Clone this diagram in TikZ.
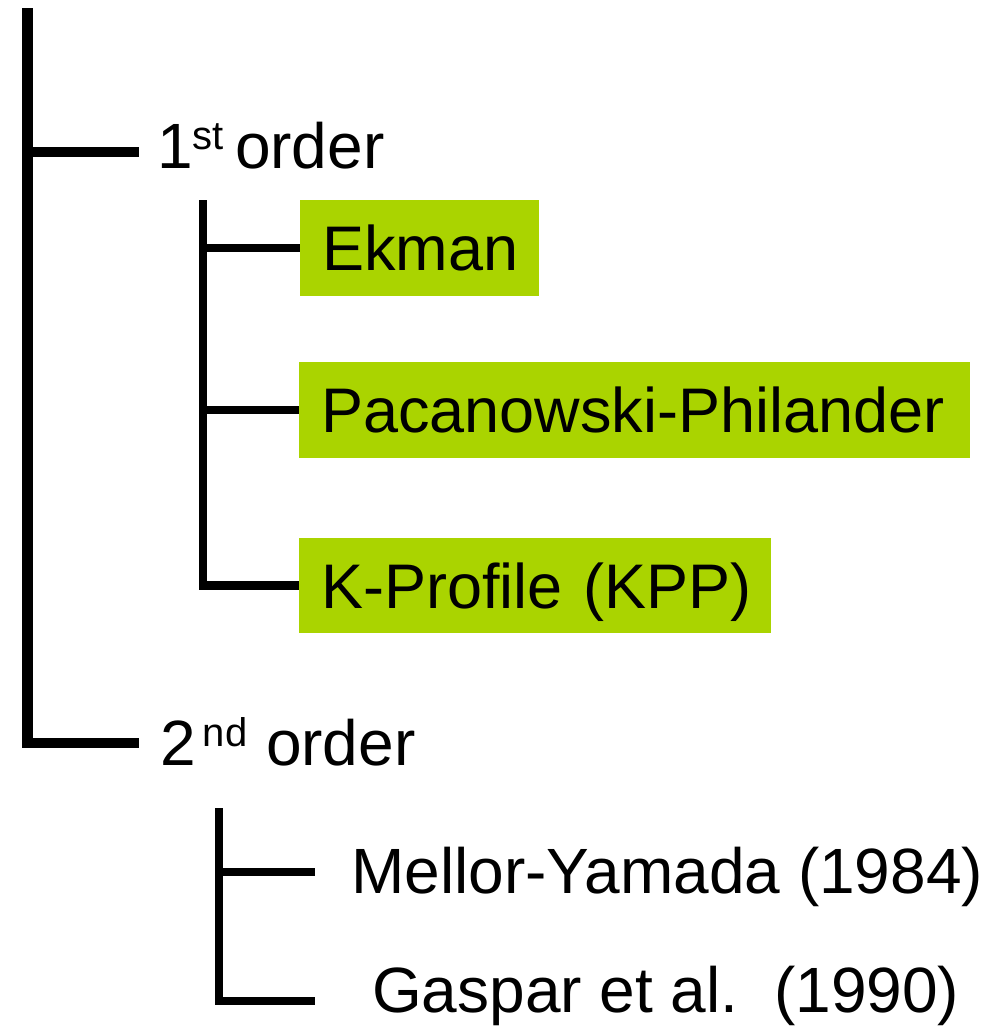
\documentclass[tikz,border=0pt]{standalone}
\usepackage{fontspec}
\setmainfont{Liberation Sans}
\definecolor{leafgreen}{RGB}{170,212,0}
% raised, smaller text for ordinal suffixes
\newcommand\ordsup[1]{\raisebox{19pt}{\fontsize{40pt}{40pt}\selectfont #1}}
\begin{document}
\begin{tikzpicture}[x=1pt,y=-1pt,
  label/.style={inner sep=0pt,anchor=base west,font=\fontsize{64pt}{64pt}\selectfont},
  gbox/.style={fill=leafgreen,inner sep=0pt,anchor=north west,
    minimum height=96pt,text height=45pt,text depth=0pt,align=left,
    execute at begin node={\hspace*{22pt}},
    font=\fontsize{63pt}{63pt}\selectfont},
  trunk/.style={line width=10.5pt},
  twig/.style={line width=8.5pt}]
\useasboundingbox (0,0) rectangle (1007,1026);

% first level
\node[label] (o1) at (157,168) {1\ordsup{st }order};
\node[label] (o2) at (160,765) {2\kern7pt\ordsup{nd}\kern1pt\ order};
\coordinate (root) at (27.5,8);
\coordinate (o1c) at ([xshift=-18pt,yshift=16pt]o1.base west);
\coordinate (o2c) at ([xshift=-21pt,yshift=22pt]o2.base west);
\draw[trunk] (root) |- (o2c);
\draw[trunk] (root |- o1c) -- (o1c);

% first order closures
\node[gbox,text width=239pt] (ekman) at (300,200) {Ekman};
\node[gbox,text width=671pt] (pac) at (299,362) {Pacanowski-Philander};
\node[gbox,text width=472pt,minimum height=95pt] (kpp) at (299,538) {K-Profile (KPP)};
\coordinate (s1) at (203,200);
\draw[twig] (s1) |- (kpp.west);
\draw[twig] (s1 |- ekman.west) -- (ekman.west);
\draw[twig] (s1 |- pac.west) -- (pac.west);

% second order closures
\node[label] (my) at (351,893) {Mellor-Yamada (1984)};
\node[label] (gas) at (372,1012) {Gaspar et al.\ \ (1990)};
\coordinate (s2) at (219,808);
\coordinate (myc) at ([xshift=-36pt,yshift=21pt]my.base west);
\coordinate (gasc) at ([xshift=-57pt,yshift=11pt]gas.base west);
\draw[twig] (s2) |- (gasc);
\draw[twig] (s2 |- myc) -- (myc);
\end{tikzpicture}
\end{document}
